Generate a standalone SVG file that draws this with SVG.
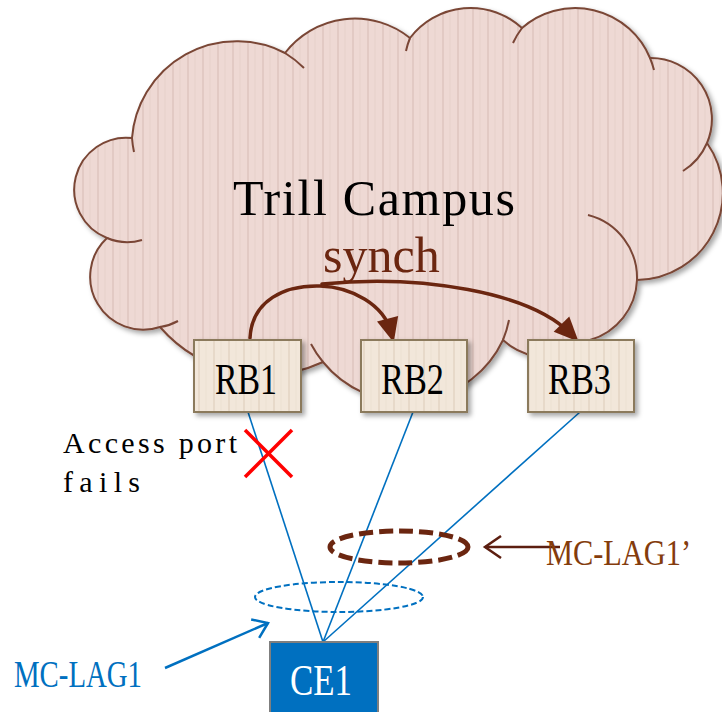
<svg xmlns="http://www.w3.org/2000/svg" width="722" height="712" viewBox="0 0 722 712">
  <defs>
    <pattern id="cloudStripes" x="7" y="0" width="15" height="20" patternUnits="userSpaceOnUse">
      <rect width="15" height="20" fill="#EED9D4"/>
      <rect x="0" width="2" height="20" fill="#E2CAC4"/>
      <rect x="7.5" width="1" height="20" fill="#E7D1CB"/>
    </pattern>
    <pattern id="boxStripes" x="3" y="0" width="15" height="20" patternUnits="userSpaceOnUse">
      <rect width="15" height="20" fill="#F2E7DA"/>
      <rect x="0" width="2" height="20" fill="#E7D9C9"/>
      <rect x="7.5" width="1" height="20" fill="#EDE1D3"/>
    </pattern>
    <filter id="shadow" x="-10%" y="-10%" width="125%" height="130%">
      <feDropShadow dx="3" dy="3" stdDeviation="2.5" flood-color="#000000" flood-opacity="0.35"/>
    </filter>
    <marker id="synchHead" markerUnits="userSpaceOnUse" markerWidth="30" markerHeight="30" refX="0" refY="0" viewBox="-12 -10 22 20" orient="auto">
      <path d="M8,0 L-10,-8 L-10,8 Z" fill="#6B2610"/>
    </marker>
    <marker id="openBlue" markerUnits="userSpaceOnUse" markerWidth="24" markerHeight="24" refX="0" refY="0" viewBox="-20 -12 22 24" orient="auto">
      <path d="M-14,-10 L0,0 L-14,10" fill="none" stroke="#0070C0" stroke-width="2.5"/>
    </marker>
    <marker id="openBrown" markerUnits="userSpaceOnUse" markerWidth="24" markerHeight="24" refX="0" refY="0" viewBox="-20 -12 22 24" orient="auto">
      <path d="M-16,-11 L0,0 L-16,11" fill="none" stroke="#5C1E10" stroke-width="2.5"/>
    </marker>
  </defs>
  <style>
    .cloud { fill: url(#cloudStripes); stroke: #7A4636; stroke-width: 2; }
    .lobe { fill: none; stroke: #7A4636; stroke-width: 2; }
    .rb { fill: url(#boxStripes); stroke: #8B7A5C; stroke-width: 2; filter: url(#shadow); }
    .rbText { font-family: "Liberation Serif", serif; font-size: 44px; fill: #000000; }
    .mono { font-family: "Liberation Serif", serif; }
    .synch { fill: none; stroke: #6B2610; stroke-width: 3.5; stroke-linecap: round; }
    .link { stroke: #0070C0; stroke-width: 1.6; fill: none; }
  </style>

  <!-- TRILL campus cloud -->
  <g id="trill-campus">
    <path class="cloud" filter="url(#shadow)" d="M107,238 A52,52 0 0 1 132,138 A105,105 0 0 1 285,53 A88,88 0 0 1 410,38 A76,76 0 0 1 522,28 A81,81 0 0 1 650,58 A61,61 0 0 1 707,143 A87,87 0 0 1 637,280 A65,65 0 0 1 590,340 L570,353 A65,65 0 0 1 503,340 A107,107 0 0 1 323,362 A139,139 0 0 1 160,327 A53,53 0 0 1 107,238 Z"/>
    <!-- inner lobe seams -->
    <path class="lobe" d="M107,238 A52,52 0 0 0 142,240"/>
    <path class="lobe" d="M132,138 A105,105 0 0 0 134,152"/>
    <path class="lobe" d="M285,53 A105,105 0 0 1 304,68"/>
    <path class="lobe" d="M410,38 A76,76 0 0 0 406,51"/>
    <path class="lobe" d="M522,28 A81,81 0 0 0 513,43"/>
    <path class="lobe" d="M650,58 A81,81 0 0 1 654,70"/>
    <path class="lobe" d="M707,143 A61,61 0 0 1 683,171"/>
    <path class="lobe" d="M637,280 A65,65 0 0 0 588,215"/>
    <path class="lobe" d="M503,340 A107,107 0 0 0 509,320"/>
    <path class="lobe" d="M323,362 A107,107 0 0 1 311,344"/>
    <path class="lobe" d="M160,327 A53,53 0 0 0 178,321"/>
    <text class="mono" x="233" y="215" font-size="50" textLength="282" lengthAdjust="spacing" fill="#000000">Trill Campus</text>
    <text x="323" y="272" font-family="Liberation Serif, serif" font-size="50" fill="#6B2610">synch</text>
  </g>

  <!-- connectors -->
  <g id="connectors">
    <path class="synch" d="M250,338 C252,300 285,285 320,286 C352,287 384,305 391,332" marker-end="url(#synchHead)"/>
    <path class="synch" d="M322,284 C420,274 530,292 571,334" marker-end="url(#synchHead)"/>
    <line class="link" x1="248" y1="412" x2="323" y2="642"/>
    <line class="link" x1="413" y1="412" x2="323" y2="642"/>
    <line class="link" x1="580" y1="412" x2="323" y2="642"/>
    <line x1="165" y1="668" x2="268" y2="623" stroke="#0070C0" stroke-width="2.5" marker-end="url(#openBlue)"/>
    <line x1="560" y1="547" x2="485" y2="547" stroke="#5C1E10" stroke-width="2.5" marker-end="url(#openBrown)"/>
  </g>

  <!-- routing bridges -->
  <g id="RB1">
    <rect class="rb" x="194" y="340" width="107" height="72"/>
    <text class="rbText" x="215" y="394" textLength="62" lengthAdjust="spacingAndGlyphs">RB1</text>
  </g>
  <g id="RB2">
    <rect class="rb" x="361" y="340" width="106" height="72"/>
    <text class="rbText" x="381" y="394" textLength="63" lengthAdjust="spacingAndGlyphs">RB2</text>
  </g>
  <g id="RB3">
    <rect class="rb" x="528" y="340" width="106" height="72"/>
    <text class="rbText" x="548" y="394" textLength="63" lengthAdjust="spacingAndGlyphs">RB3</text>
  </g>

  <!-- link aggregation groups -->
  <g id="mc-lag1">
    <ellipse cx="339" cy="597" rx="84" ry="15" fill="none" stroke="#0070C0" stroke-width="2" stroke-dasharray="6 3"/>
    <text class="mono" x="14" y="687" font-size="38" textLength="128" lengthAdjust="spacingAndGlyphs" fill="#0070C0">MC-LAG1</text>
  </g>
  <g id="mc-lag1-prime">
    <ellipse cx="399" cy="547" rx="69" ry="16" fill="none" stroke="#6B2610" stroke-width="5" stroke-dasharray="14 6"/>
    <text class="mono" x="546" y="565" font-size="35" textLength="145" lengthAdjust="spacingAndGlyphs" fill="#843C0C">MC-LAG1’</text>
  </g>

  <!-- access port failure -->
  <g id="port-failure">
    <line x1="245" y1="430" x2="292" y2="477" stroke="#FF0000" stroke-width="3.5"/>
    <line x1="292" y1="430" x2="245" y2="477" stroke="#FF0000" stroke-width="3.5"/>
    <text class="mono" x="63" y="453" font-size="30" textLength="174" lengthAdjust="spacing" fill="#000000">Access port</text>
    <text class="mono" x="63" y="492" font-size="30" textLength="77" lengthAdjust="spacing" fill="#000000">fails</text>
  </g>

  <!-- customer edge -->
  <g id="CE1">
    <rect x="270" y="642" width="108" height="76" fill="#0070C0" stroke="#7F7F7F" stroke-width="2"/>
    <text class="rbText" x="290" y="695" font-size="42" textLength="62" lengthAdjust="spacingAndGlyphs" style="fill:#FFFFFF">CE1</text>
  </g>
</svg>
